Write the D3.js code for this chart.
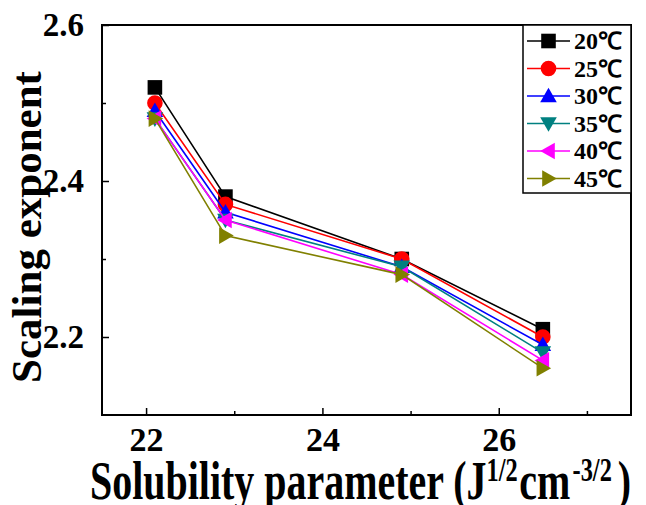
<!DOCTYPE html>
<html>
<head>
<meta charset="utf-8">
<script src="https://cdn.jsdelivr.net/npm/d3@7"></script>
<style>
  html, body { margin: 0; padding: 0; background: #ffffff; }
  svg { display: block; }
</style>
</head>
<body>
<svg id="chart" width="646" height="505"></svg>
<script>
// Solubility parameter of each solvent (x) and scaling exponent per temperature
const solubility = [22.1, 22.9, 24.9, 26.5];
const temperatures = ['20℃', '25℃', '30℃', '35℃', '40℃', '45℃'];
const exp20 = [2.52, 2.38, 2.30, 2.21];
const exp25 = [2.50, 2.37, 2.30, 2.20];
const exp30 = [2.49, 2.36, 2.29, 2.19];
const exp35 = [2.48, 2.35, 2.29, 2.18];
const exp40 = [2.48, 2.35, 2.28, 2.17];
const exp45 = [2.48, 2.33, 2.28, 2.16];
const xTicks = [22, 24, 26];
const yTicks = [2.2, 2.4, 2.6];

const seriesValues = [exp20, exp25, exp30, exp35, exp40, exp45];
const COLORS = ['#000000', '#ff0000', '#0000ff', '#008080', '#ff00ff', '#808000'];
const MARKERS = ['square', 'circle', 'up', 'down', 'left', 'right'];

const FONT = '"Liberation Serif", "Times New Roman", serif';
const margin = { left: 102, top: 25, right: 15, bottom: 90 };
const W = 646;
const H = 505;

const root = d3.select('#chart');

const x = d3.scaleLinear().domain([21.5, 27.5]).range([margin.left, W - margin.right]);
const y = d3.scaleLinear().domain([2.1, 2.6]).range([H - margin.bottom, margin.top]);

// axes: major ticks inward, minor halfway ticks inward
const xAxis = root.append('g')
  .attr('transform', `translate(0, ${y.range()[0]})`)
  .call(d3.axisBottom(x).tickValues(xTicks).tickSizeInner(-7).tickSizeOuter(0).tickPadding(12).tickFormat(d3.format('d')));
const yAxis = root.append('g')
  .attr('transform', `translate(${x.range()[0]}, 0)`)
  .call(d3.axisLeft(y).tickValues(yTicks).tickSizeInner(-7).tickSizeOuter(0).tickPadding(18).tickFormat(d3.format('.1f')));

root.append('g')
  .attr('transform', `translate(0, ${y.range()[0]})`)
  .call(d3.axisBottom(x).tickValues([23, 25, 27]).tickSizeInner(-4).tickSizeOuter(0).tickFormat(''));
root.append('g')
  .attr('transform', `translate(${x.range()[0]}, 0)`)
  .call(d3.axisLeft(y).tickValues([2.3, 2.5]).tickSizeInner(-4).tickSizeOuter(0).tickFormat(''));

root.selectAll('.domain').remove();
root.selectAll('.tick line').attr('stroke', '#000').attr('stroke-width', 1.5);
xAxis.selectAll('text')
  .attr('font-family', FONT)
  .attr('font-weight', 700)
  .attr('font-size', 34)
  .attr('fill', '#000');
yAxis.selectAll('text')
  .attr('font-family', FONT)
  .attr('font-weight', 700)
  .attr('font-size', 33)
  .attr('fill', '#000');

function markerPath(kind) {
  const s = 7.3;
  switch (kind) {
    case 'square': return `M${-s},${-s}H${s}V${s}H${-s}Z`;
    case 'circle': return d3.symbol(d3.symbolCircle, Math.PI * 7.8 * 7.8)();
    case 'up': return `M0,${-s - 1}L${s + 1},${s - 1}L${-s - 1},${s - 1}Z`;
    case 'down': return `M0,${s + 1}L${s + 1},${-s + 1}L${-s - 1},${-s + 1}Z`;
    case 'left': return `M${-s - 1},0L${s - 1},${-s - 1}L${s - 1},${s + 1}Z`;
    default: return `M${s + 1},0L${-s + 1},${-s - 1}L${-s + 1},${s + 1}Z`;
  }
}

const line = d3.line().x((d, i) => x(solubility[i])).y((d) => y(d));

seriesValues.forEach((vals, k) => {
  const g = root.append('g');
  g.append('path')
    .attr('d', line(vals))
    .attr('fill', 'none')
    .attr('stroke', COLORS[k])
    .attr('stroke-width', 1.6);
  g.selectAll('path.m')
    .data(vals)
    .join('path')
    .attr('class', 'm')
    .attr('transform', (d, i) => `translate(${x(solubility[i])}, ${y(d)})`)
    .attr('d', markerPath(MARKERS[k]))
    .attr('fill', COLORS[k]);
});

// frame
root.append('rect')
  .attr('x', x.range()[0])
  .attr('y', y.range()[1])
  .attr('width', x.range()[1] - x.range()[0])
  .attr('height', y.range()[0] - y.range()[1])
  .attr('fill', 'none')
  .attr('stroke', '#000')
  .attr('stroke-width', 2);

// legend
const legX = 523;
const legTop = y.range()[1];
const legend = root.append('g');
legend.append('rect')
  .attr('x', legX)
  .attr('y', legTop)
  .attr('width', x.range()[1] - legX)
  .attr('height', 168)
  .attr('fill', '#fff')
  .attr('stroke', '#000')
  .attr('stroke-width', 1.5);

temperatures.forEach((label, k) => {
  const cy = legTop + 16 + k * 27.5;
  legend.append('line')
    .attr('x1', legX + 4).attr('x2', legX + 47)
    .attr('y1', cy).attr('y2', cy)
    .attr('stroke', COLORS[k])
    .attr('stroke-width', 1.6);
  legend.append('path')
    .attr('transform', `translate(${legX + 25.5}, ${cy})`)
    .attr('d', markerPath(MARKERS[k]))
    .attr('fill', COLORS[k]);
  legend.append('text')
    .attr('x', legX + 51)
    .attr('y', cy)
    .attr('dy', '0.35em')
    .attr('font-family', FONT)
    .attr('font-weight', 700)
    .attr('font-size', 24)
    .attr('fill', '#000')
    .text(label);
});

// axis titles
root.append('text')
  .attr('transform', 'translate(41, 227) rotate(-90)')
  .attr('text-anchor', 'middle')
  .attr('font-family', FONT)
  .attr('font-weight', 700)
  .attr('font-size', 43)
  .attr('fill', '#000')
  .text('Scaling exponent');

// the x title in the reference is drawn tall and narrow
const xt = root.append('text')
  .attr('transform', 'translate(90, 499) scale(0.74, 1)')
  .attr('text-anchor', 'start')
  .attr('font-family', FONT)
  .attr('font-weight', 700)
  .attr('font-size', 54)
  .attr('fill', '#000');
xt.append('tspan').text('Solubility parameter (J');
xt.append('tspan').attr('font-size', 33).attr('dy', -18).text('1/2');
xt.append('tspan').attr('dy', 18).attr('dx', 2).text('cm');
xt.append('tspan').attr('font-size', 33).attr('dy', -18).attr('dx', 3).text('-3/2');
xt.append('tspan').attr('dy', 18).attr('dx', 8).text(')');
</script>
</body>
</html>
